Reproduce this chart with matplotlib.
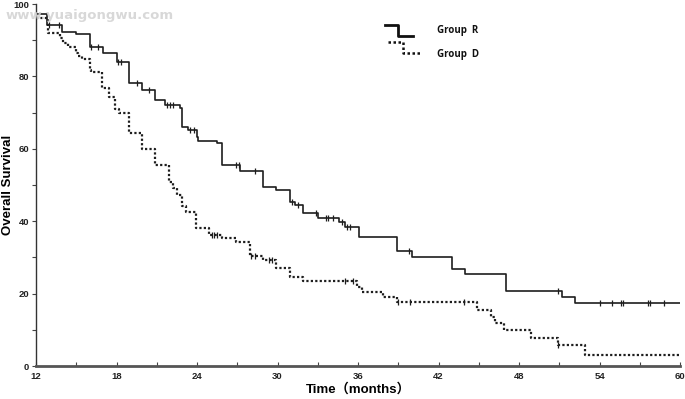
import numpy as np
import matplotlib
matplotlib.use("Agg")
import matplotlib.pyplot as plt
from matplotlib.lines import Line2D

# ---------------- data ----------------
r_times = [12, 12.8, 13.95, 15.0, 16.0, 17.0, 18.0, 18.9, 19.9, 20.9, 21.6, 22.7, 22.9, 23.3,
           24.0, 24.1, 25.5, 25.9, 27.2, 28.9, 29.9, 30.9, 31.3, 31.9, 33.0, 34.6, 35.0, 36.1,
           38.9, 40.0, 43.0, 43.95, 47.0, 51.2, 52.2]
r_surv = [97.2, 94.2, 92.3, 91.7, 88.2, 86.5, 84.1, 78.1, 76.2, 73.5, 72.0, 71.3, 66.1, 65.2,
          63.3, 62.2, 61.5, 55.5, 53.8, 49.5, 48.5, 45.3, 44.6, 42.2, 41.0, 39.9, 38.5, 35.7,
          31.8, 30.2, 26.9, 25.5, 20.7, 19.0, 17.3]
r_censor = [13.0, 13.7, 16.1, 16.6, 18.1, 18.3, 19.5, 20.4, 21.8, 22.0, 22.2, 23.5, 23.8,
            26.9, 27.1, 28.3, 31.1, 31.5, 32.85, 33.6, 33.8, 34.1, 34.8, 35.2, 35.4, 39.8,
            50.9, 54.0, 54.9, 55.6, 55.75, 57.6, 57.8, 58.8]

d_times = [12, 12.9, 13.8, 14.0, 14.4, 15.0, 15.1, 15.4, 16.0, 16.1, 16.95, 17.45, 17.9, 18.2,
           18.9, 19.9, 20.9, 21.95, 22.2, 22.5, 22.9, 23.2, 23.9, 24.9, 25.9, 26.9, 27.95, 28.9,
           29.9, 30.9, 31.9, 35.95, 36.3, 37.9, 38.9, 44.9, 45.9, 46.2, 46.9, 48.9, 50.9, 52.9]
d_surv = [96.0, 91.9, 90.6, 89.3, 88.2, 86.4, 85.6, 84.7, 81.8, 81.3, 76.7, 74.4, 70.9, 69.8,
          64.3, 60.0, 55.6, 50.9, 49.1, 47.2, 44.2, 42.6, 38.0, 36.3, 35.4, 34.3, 30.4, 29.3,
          27.0, 24.5, 23.5, 21.9, 20.5, 19.1, 17.6, 15.6, 13.4, 11.8, 9.9, 7.8, 5.8, 3.0]
d_censor = [25.1, 25.3, 25.5, 28.0, 28.3, 29.4, 29.6, 35.0, 35.6, 39.0, 39.9, 43.9, 50.9]

x_ticks = [12, 18, 24, 30, 36, 42, 48, 54, 60]
y_ticks = [0, 20, 40, 60, 80, 100]
group_labels = ["Group  R", "Group  D"]

# ---------------- figure ----------------
fig = plt.figure(figsize=(6.85, 3.99), dpi=100)
ax = fig.add_axes([36/685, 1-366/399, 644/685, 362/399])

col = "#1e1e1e"

def step_xy(t, s, tmax=60):
    return list(t) + [tmax], list(s) + [s[-1]]

def surv_at(t, s, ct):
    idx = np.searchsorted(np.asarray(t), np.asarray(ct), side="right") - 1
    return np.asarray(s)[idx]

xr, yr = step_xy(r_times, r_surv)
ax.step(xr, yr, where="post", color=col, lw=1.2, solid_capstyle="butt")
ax.plot(r_censor, surv_at(r_times, r_surv, r_censor), ls="none", marker="|",
        ms=5, mew=0.9, color=col)

xd, yd = step_xy(d_times, d_surv)
ax.step(xd, yd, where="post", color=col, lw=1.6, ls=(0, (1, 1)))
ax.plot(d_censor, surv_at(d_times, d_surv, d_censor), ls="none", marker="|",
        ms=5, mew=0.9, color=col)

ax.set_xlim(12, 60)
ax.set_ylim(0, 100)
for s in ["top", "right"]:
    ax.spines[s].set_visible(False)
ax.spines["left"].set_color("#333333")
ax.spines["left"].set_linewidth(1.0)
ax.spines["bottom"].set_color("#555555")
ax.spines["bottom"].set_linewidth(2.0)

tick_font = ["Liberation Sans Narrow", "Liberation Sans", "DejaVu Sans"]
ax.set_xticks(x_ticks)
ax.set_xticks(np.arange(15, 60, 6), minor=True)
ax.set_yticks(y_ticks)
ax.set_yticks(np.arange(10, 100, 20), minor=True)
ax.set_xticklabels([str(v) for v in x_ticks], fontfamily=tick_font, fontweight="bold",
                   fontsize=6.8, color="#222222")
ax.set_yticklabels([str(v) for v in y_ticks], fontfamily=tick_font, fontweight="bold",
                   fontsize=6.8, color="#222222")
ax.tick_params(axis="x", which="both", direction="in", length=3, width=0.8,
               color="#444444", pad=4)
ax.tick_params(axis="y", which="both", direction="out", length=3, width=0.8,
               color="#444444", pad=2)

def fx(p):
    return p / 685
def fy(p):
    return 1 - p / 399

lab_font = ["Liberation Sans", "Noto Sans CJK SC", "DejaVu Sans"]
fig.text(fx(358), fy(389), "Time（months）", fontfamily=lab_font, fontweight="bold",
         fontsize=9.5, ha="center", va="center")
fig.text(fx(8), fy(185), "Overall Survival", fontfamily=lab_font, fontweight="bold",
         fontsize=9.5, ha="center", va="center", rotation=90)

# ---------------- custom legend ----------------
fig.add_artist(Line2D([fx(385), fx(398), fx(398), fx(413)],
                      [fy(25), fy(25), fy(36), fy(36)],
                      color="#111111", lw=2.0, transform=fig.transFigure))
fig.add_artist(Line2D([fx(388), fx(403), fx(403), fx(420)],
                      [fy(42), fy(42), fy(53), fy(53)],
                      color="#111111", lw=1.8, ls=(0, (1, 1)), transform=fig.transFigure))
leg_font = ["Open Sans", "Liberation Sans", "DejaVu Sans"]
fig.text(fx(437), fy(30), group_labels[0], fontfamily=leg_font, fontweight="bold",
         fontsize=7, va="center", ha="left", color="#111111")
fig.text(fx(437), fy(55), group_labels[1], fontfamily=leg_font, fontweight="bold",
         fontsize=7, va="center", ha="left", color="#111111")

# watermark
fig.text(fx(6), fy(15.5), "www.yuaigongwu.com", fontfamily=["DejaVu Sans"],
         fontweight="bold", fontsize=9.5, color="#d4d4d4", va="center", ha="left",
         alpha=0.9, zorder=0)

fig.savefig("out.png", dpi=100)
